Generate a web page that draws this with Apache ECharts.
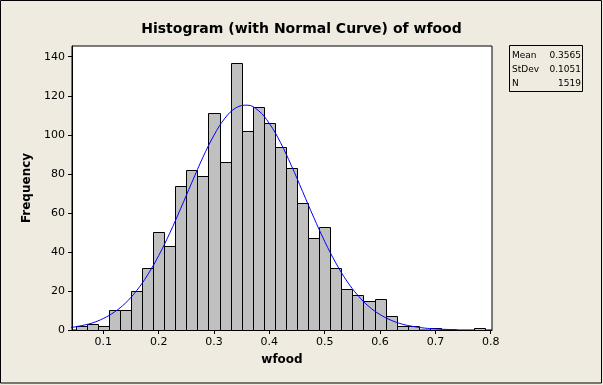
<!DOCTYPE html>
<html><head><meta charset="utf-8">
<script src="https://cdn.jsdelivr.net/npm/echarts@6/dist/echarts.min.js"></script>
<style>html,body{margin:0;padding:0;background:#EFEBE1}#c{width:603px;height:385px}</style>
</head><body><div id="c"></div><script>
// Histogram bins (midpoints) and frequencies
const binMids = [0.06,0.08,0.10,0.12,0.14,0.16,0.18,0.20,0.22,0.24,0.26,0.28,0.30,0.32,0.34,0.36,0.38,0.40,0.42,0.44,0.46,0.48,0.50,0.52,0.54,0.56,0.58,0.60,0.62,0.64,0.66,0.68,0.70,0.72,0.74,0.76,0.78];
const counts  = [2,3,2,10,10,20,32,50,43,74,82,79,111,86,137,102,114,106,94,83,65,47,53,32,21,18,15,16,7,2,2,0,1,0,0,0,1];
const binWidth = 0.02;
// Normal curve points
const curveX = [0.04,0.06,0.08,0.10,0.12,0.14,0.16,0.18,0.20,0.22,0.24,0.26,0.28,0.30,0.32,0.34,0.36,0.38,0.40,0.42,0.44,0.46,0.48,0.50,0.52,0.54,0.56,0.58,0.60,0.62,0.64,0.66,0.68,0.70,0.72,0.74];
const curveY = [1.2,2.2,3.6,5.9,9.2,13.8,20.1,28.2,38.1,49.6,62.4,75.6,88.5,99.8,108.6,113.9,115.2,112.5,105.8,96.1,84.1,71.0,57.8,45.4,34.4,25.1,17.7,12.0,7.9,5.0,3.0,1.8,1.0,0.55,0.3,0.15];
const xTicks = [0.1,0.2,0.3,0.4,0.5,0.6,0.7,0.8];
const yTicks = [0,20,40,60,80,100,120,140];
const statLabels = ['Mean','StDev','N'];
const statValues = ['0.3565','0.1051','1519'];
const titleText = 'Histogram (with Normal Curve) of wfood';

const FONT = 'DejaVu Sans';
const chart = echarts.init(document.getElementById('c'));

const histData = binMids.map((m,i)=>[m, counts[i]]).filter(d=>d[1]>0);
const curveData = curveX.map((x,i)=>[x, curveY[i]]);

const graphics = [
  {type:'rect', shape:{x:0.5,y:0.5,width:601,height:382.5}, style:{fill:null, stroke:'#000', lineWidth:1}, silent:true},
  {type:'rect', shape:{x:509.5,y:45.5,width:73,height:46}, style:{fill:null, stroke:'#000', lineWidth:1}, silent:true}
];
statLabels.forEach((l,i)=>{
  graphics.push({type:'text', x:512, y:56+14*i, style:{text:l, font:'9px '+FONT, fill:'#000', textVerticalAlign:'middle', textAlign:'left'}});
  graphics.push({type:'text', x:581, y:56+14*i, style:{text:statValues[i], font:'9px '+FONT, fill:'#000', textVerticalAlign:'middle', textAlign:'right'}});
});

chart.setOption({
  backgroundColor:'#EFEBE1',
  animation:false,
  title:{text:titleText, left:'center', top:17, textStyle:{fontFamily:FONT, fontWeight:'bold', fontSize:14, color:'#000'}},
  grid:{left:72, top:46, right:111, bottom:55, show:true, backgroundColor:'#fff', borderColor:'#000', borderWidth:1},
  xAxis:{type:'value', min:0.0434, max:0.8023,
    name:'wfood', nameLocation:'middle', nameGap:24,
    nameTextStyle:{fontFamily:FONT, fontWeight:'bold', fontSize:12, color:'#000'},
    axisLine:{show:true, onZero:false, lineStyle:{color:'#000'}},
    axisTick:{show:true, customValues:xTicks, length:4, lineStyle:{color:'#000'}},
    axisLabel:{customValues:xTicks, formatter:v=>Number(v).toFixed(1), color:'#000', fontSize:11, fontFamily:FONT, margin:7},
    splitLine:{show:false}},
  yAxis:{type:'value', min:0, max:145.5,
    name:'Frequency', nameLocation:'middle', nameGap:38, nameRotate:90,
    nameTextStyle:{fontFamily:FONT, fontWeight:'bold', fontSize:12, color:'#000'},
    axisLine:{show:true, lineStyle:{color:'#000'}},
    axisTick:{show:true, customValues:yTicks, length:4, lineStyle:{color:'#000'}},
    axisLabel:{customValues:yTicks, color:'#000', fontSize:11, fontFamily:FONT, margin:7},
    splitLine:{show:false}},
  graphic:graphics,
  series:[
    {type:'custom', data:histData, clip:true,
      renderItem:(params, api)=>{
        const m = api.value(0), c = api.value(1);
        const p0 = api.coord([m - binWidth/2, c]);
        const p1 = api.coord([m + binWidth/2, 0]);
        const x0 = Math.round(p0[0])+0.5, x1 = Math.round(p1[0])+0.5;
        const y0 = Math.round(p0[1])+0.5, y1 = Math.round(p1[1])+0.5;
        return {type:'rect', shape:{x:x0, y:y0, width:x1-x0, height:y1-y0},
          style:{fill:'#C0C0C0', stroke:'#000', lineWidth:1}};
      }},
    {type:'line', data:curveData, smooth:0.4, symbol:'none', clip:true,
      lineStyle:{color:'#0000FF', width:1}, z:5}
  ]
});
</script></body></html>
